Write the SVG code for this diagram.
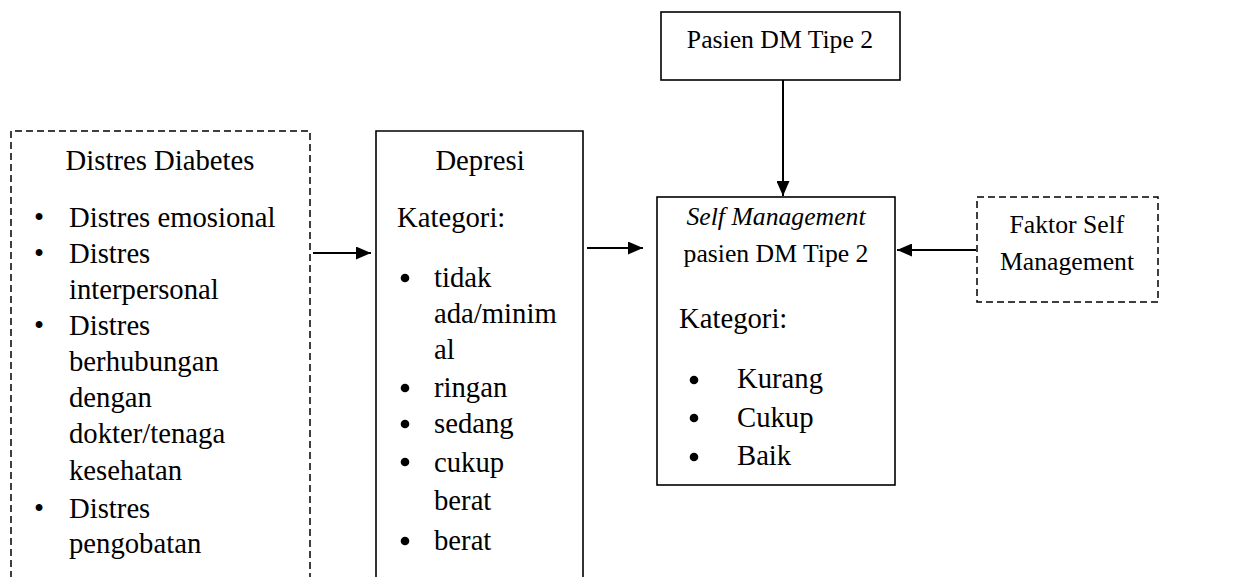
<svg xmlns="http://www.w3.org/2000/svg" width="1233" height="577" viewBox="0 0 1233 577">
<defs>
<style>
text{font-family:"Liberation Serif","Times New Roman",serif;font-size:28.7px;fill:#000}
.n{font-size:25.7px}
.c{text-anchor:middle}
.box{fill:#fff;stroke:#000;stroke-width:1.6}
.dash{fill:#fff;stroke:#000;stroke-width:1.5;stroke-dasharray:7 4}
.con{stroke:#000;stroke-width:2;fill:none}
.dot{fill:#000}
</style>
<marker id="ah" viewBox="0 0 15 13" refX="15" refY="6.5" markerWidth="15" markerHeight="13" markerUnits="userSpaceOnUse" orient="auto">
<path d="M0,0 L15,6.5 L0,13 Z" fill="#000"/>
</marker>
</defs>
<rect width="1233" height="577" fill="#fff"/>
<g id="distres">
<path class="dash" d="M11,600 V131 H310 V600"/>
<text class="c" x="160" y="170">Distres Diabetes</text>
<text x="34" y="227">•</text><text x="69" y="227">Distres emosional</text>
<text x="34" y="263">•</text><text x="69" y="263">Distres</text>
<text x="69" y="299">interpersonal</text>
<text x="34" y="335">•</text><text x="69" y="335">Distres</text>
<text x="69" y="371">berhubungan</text>
<text x="69" y="407">dengan</text>
<text x="69" y="443">dokter/tenaga</text>
<text x="69" y="480">kesehatan</text>
<text x="34" y="518">•</text><text x="69" y="518">Distres</text>
<text x="69" y="553">pengobatan</text>
</g>
<g id="depresi">
<path class="box" d="M376,600 V131 H583 V600"/>
<text class="c" x="480" y="170">Depresi</text>
<text x="397" y="227">Kategori:</text>
<circle class="dot" cx="405" cy="278" r="4.3"/><text x="434" y="287">tidak</text>
<text x="434" y="323">ada/minim</text>
<text x="434" y="359">al</text>
<circle class="dot" cx="405" cy="388" r="4.3"/><text x="434" y="397">ringan</text>
<circle class="dot" cx="405" cy="424" r="4.3"/><text x="434" y="433">sedang</text>
<circle class="dot" cx="405" cy="462" r="4.3"/><text x="434" y="472">cukup</text>
<text x="434" y="510">berat</text>
<circle class="dot" cx="405" cy="541" r="4.3"/><text x="434" y="550">berat</text>
</g>
<g id="pasien">
<rect class="box" x="661" y="12" width="239" height="68"/>
<text class="c n" x="780" y="48">Pasien DM Tipe 2</text>
</g>
<g id="selfmanagement">
<rect class="box" x="657" y="197" width="238" height="288"/>
<text class="c n" x="776" y="225" font-style="italic">Self Management</text>
<text class="c n" x="776" y="262">pasien DM Tipe 2</text>
<text x="679" y="328">Kategori:</text>
<circle class="dot" cx="694" cy="380" r="4.3"/><text x="737" y="388">Kurang</text>
<circle class="dot" cx="694" cy="418" r="4.3"/><text x="737" y="427">Cukup</text>
<circle class="dot" cx="694" cy="457" r="4.3"/><text x="737" y="465">Baik</text>
</g>
<g id="faktor">
<rect class="dash" x="977" y="197" width="181" height="105"/>
<text class="c n" x="1067" y="233">Faktor Self</text>
<text class="c n" x="1067" y="270">Management</text>
</g>
<g id="connectors">
<line class="con" x1="783" y1="80" x2="783" y2="196" marker-end="url(#ah)"/>
<line class="con" x1="313" y1="253" x2="371" y2="253" marker-end="url(#ah)"/>
<line class="con" x1="587" y1="248" x2="643" y2="248" marker-end="url(#ah)"/>
<line class="con" x1="976" y1="250" x2="897" y2="250" marker-end="url(#ah)"/>
</g>
</svg>
